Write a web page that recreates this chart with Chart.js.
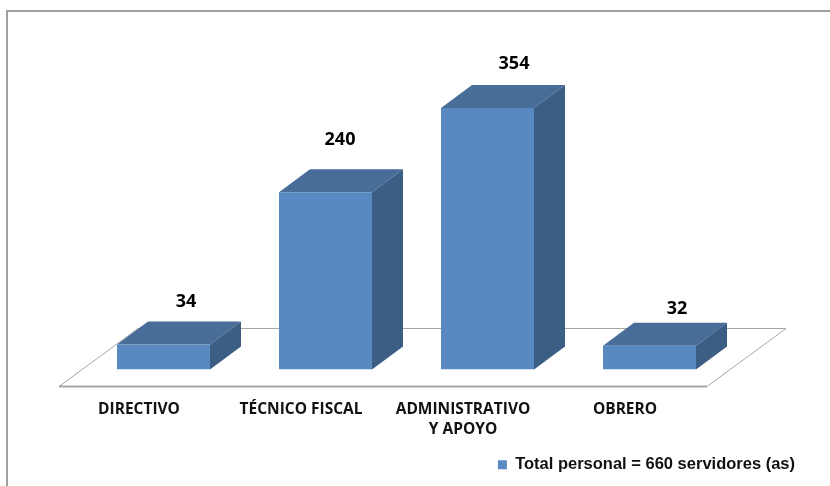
<!DOCTYPE html>
<html>
<head>
<meta charset="utf-8">
<style>
  html, body { margin: 0; padding: 0; background: #fff; }
  #box { width: 830px; height: 486px; }
</style>
<script src="https://cdn.jsdelivr.net/npm/chart.js@4"></script>
</head>
<body>
<div id="box"><canvas id="grafica"></canvas></div>
<script>
const categorias = ['DIRECTIVO', 'TÉCNICO FISCAL', ['ADMINISTRATIVO', 'Y APOYO'], 'OBRERO'];
const personal = [34, 240, 354, 32];
const leyenda = 'Total personal = 660 servidores (as)';

// the value labels were placed by hand in the original, each one sits differently
const etiquetaDx = [22.5, 14.5, 26.5, 27.5];
const etiquetaDy = [-43, -52, -44, -37];

const frente = '#5889c1';
const arriba = '#486d99';
const lado = '#3c5e85';
const lineaPiso = '#a6a6a6';
const marco = '#a0a0a0';

const cubo3d = {
  id: 'cubo3d',
  beforeDatasetsDraw(chart) {
    const ctx = chart.ctx;
    const base = chart.scales.y.getPixelForValue(0);
    const izq = chart.scales.x.left - 23.5;
    const der = chart.scales.x.right - 23.5;
    // marco
    ctx.save();
    ctx.strokeStyle = marco;
    ctx.lineWidth = 2;
    ctx.beginPath();
    ctx.moveTo(7, 486);
    ctx.lineTo(7, 11);
    ctx.lineTo(830, 11);
    ctx.stroke();
    // piso
    ctx.strokeStyle = lineaPiso;
    ctx.lineWidth = 1;
    ctx.beginPath();
    ctx.moveTo(izq, base + 17);
    ctx.lineTo(izq + 79, base - 41);
    ctx.lineTo(der + 79, base - 41);
    ctx.lineTo(der, base + 17);
    ctx.closePath();
    ctx.stroke();
    ctx.lineWidth = 2;
    ctx.beginPath();
    ctx.moveTo(izq, base + 17);
    ctx.lineTo(der, base + 17);
    ctx.stroke();
    // caras de cada barra
    chart.getDatasetMeta(0).data.forEach((bar) => {
      const l = bar.x - bar.width / 2;
      const r = bar.x + bar.width / 2;
      ctx.fillStyle = arriba;
      ctx.beginPath();
      ctx.moveTo(l, bar.y);
      ctx.lineTo(l + 31, bar.y - 23);
      ctx.lineTo(r + 31, bar.y - 23);
      ctx.lineTo(r, bar.y);
      ctx.closePath();
      ctx.fill();
      ctx.fillStyle = lado;
      ctx.beginPath();
      ctx.moveTo(r, bar.y);
      ctx.lineTo(r + 31, bar.y - 23);
      ctx.lineTo(r + 31, bar.base - 23);
      ctx.lineTo(r, bar.base);
      ctx.closePath();
      ctx.fill();
    });
    ctx.restore();
  },
  afterDatasetsDraw(chart) {
    const ctx = chart.ctx;
    ctx.save();
    ctx.fillStyle = '#000';
    ctx.font = 'bold 18px "Open Sans"';
    ctx.textAlign = 'center';
    ctx.textBaseline = 'middle';
    chart.getDatasetMeta(0).data.forEach((bar, i) => {
      ctx.fillText(personal[i], bar.x + etiquetaDx[i], bar.y + etiquetaDy[i]);
    });
    ctx.restore();
  }
};

new Chart(document.getElementById('grafica'), {
  type: 'bar',
  data: {
    labels: categorias,
    datasets: [{
      label: leyenda,
      data: personal,
      backgroundColor: frente,
      barPercentage: 93 / 162,
      categoryPercentage: 1
    }]
  },
  options: {
    responsive: true,
    maintainAspectRatio: false,
    animation: false,
    layout: { padding: { left: 0, right: 31, top: 74, bottom: 3 } },
    plugins: {
      tooltip: { enabled: false },
      legend: {
        position: 'bottom',
        align: 'end',
        labels: {
          boxWidth: 9,
          boxHeight: 9,
          padding: 4,
          color: '#111',
          font: { family: '"Liberation Sans"', weight: 'bold', size: 16.5 }
        }
      }
    },
    scales: {
      x: {
        grid: { display: false, drawTicks: false },
        border: { display: false },
        afterFit: (scale) => { scale.height = 83; },
        ticks: {
          padding: 30,
          labelOffset: -24.5,
          maxRotation: 0,
          color: '#111',
          font: { family: '"Open Sans"', weight: 'bold', size: 15.5, lineHeight: 1.3 }
        }
      },
      y: {
        min: 0,
        max: 400,
        grid: { display: false, drawTicks: false },
        border: { display: false },
        ticks: { display: false },
        afterFit: (scale) => { scale.width = 82.5; }
      },
      yDer: {
        position: 'right',
        grid: { display: false, drawTicks: false },
        border: { display: false },
        ticks: { display: false },
        afterFit: (scale) => { scale.width = 68.5; }
      }
    }
  },
  plugins: [cubo3d]
});
</script>
</body>
</html>
